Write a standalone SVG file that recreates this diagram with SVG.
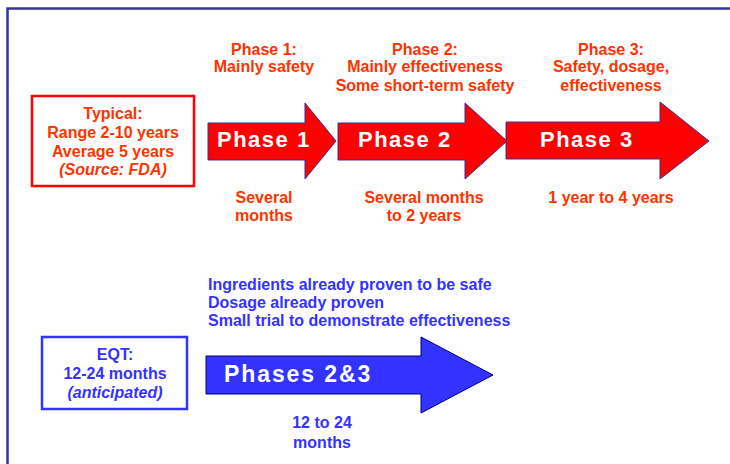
<svg xmlns="http://www.w3.org/2000/svg" width="730" height="464" viewBox="0 0 730 464">
<style>
text{font-family:"Liberation Sans",Arial,sans-serif;font-weight:bold}
.r{fill:#FF3300;font-size:16px;text-anchor:middle}
.b{fill:#3333FF;font-size:16px}
.bc{fill:#3333FF;font-size:16px;text-anchor:middle}
.w{fill:#FFFFFF;font-size:22px;letter-spacing:1.5px}
.ra{fill:#FF0000;stroke:#333399;stroke-width:1}
.ba{fill:#3333FF;stroke:#000080;stroke-width:1}
.it{font-style:italic}
</style>
<rect width="730" height="464" fill="#FFFFFF"/>
<path d="M7.5,464 V8.5 H730" fill="none" stroke="#333399" stroke-width="2.5"/>
<g id="connectors"></g>
<g id="phase1">
<polygon class="ra" points="208,123 305,123 305,103 336,141 305,179 305,160 208,160"/>
<text class="w" x="217" y="147">Phase 1</text>
<text class="r" x="264" y="55">Phase 1:</text>
<text class="r" x="264" y="72">Mainly safety</text>
<text class="r" x="264" y="203">Several</text>
<text class="r" x="264" y="221">months</text>
</g>
<g id="phase2">
<polygon class="ra" points="338,123 465,123 465,103 507,141 465,179 465,160 338,160"/>
<text class="w" x="358" y="147">Phase 2</text>
<text class="r" x="425" y="55">Phase 2:</text>
<text class="r" x="425" y="72">Mainly effectiveness</text>
<text class="r" x="425" y="91">Some short-term safety</text>
<text class="r" x="424" y="203">Several months</text>
<text class="r" x="424" y="221">to 2 years</text>
</g>
<g id="phase3">
<polygon class="ra" points="506,122 660,122 660,102 709,141 660,179 660,159 506,159"/>
<text class="w" x="540" y="147">Phase 3</text>
<text class="r" x="611" y="55">Phase 3:</text>
<text class="r" x="611" y="72">Safety, dosage,</text>
<text class="r" x="611" y="91">effectiveness</text>
<text class="r" x="611" y="203">1 year to 4 years</text>
</g>
<g id="typical">
<rect x="32" y="96" width="162" height="90" fill="none" stroke="#FF0000" stroke-width="2.5"/>
<text class="r" x="113" y="119">Typical:</text>
<text class="r" x="113" y="138">Range 2-10 years</text>
<text class="r" x="113" y="157">Average 5 years</text>
<text class="r it" x="113" y="175">(Source: FDA)</text>
</g>
<g id="eqt">
<rect x="42" y="337" width="145" height="72" fill="none" stroke="#3333FF" stroke-width="2.5"/>
<text class="bc" x="115" y="360">EQT:</text>
<text class="bc" x="115" y="379">12-24 months</text>
<text class="bc it" x="115" y="398">(anticipated)</text>
</g>
<g id="phases23">
<polygon class="ba" points="206,356 421,356 421,337 493,375 421,413 421,394 206,394"/>
<text class="w" x="224" y="382" style="font-size:23px;letter-spacing:1.9px">Phases 2&amp;3</text>
<text class="b" x="208" y="290">Ingredients already proven to be safe</text>
<text class="b" x="208" y="308">Dosage already proven</text>
<text class="b" x="208" y="326">Small trial to demonstrate effectiveness</text>
<text class="bc" x="322" y="428">12 to 24</text>
<text class="bc" x="322" y="448">months</text>
</g>
</svg>
